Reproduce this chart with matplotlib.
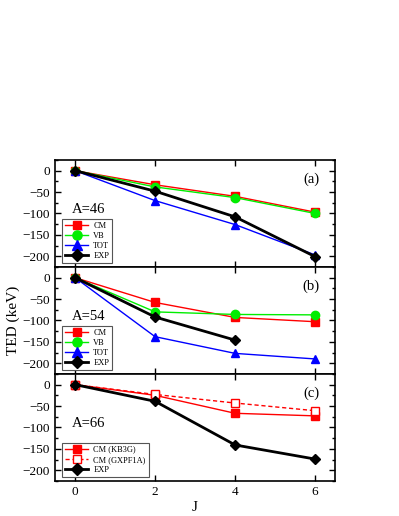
import matplotlib
matplotlib.use("Agg")
import matplotlib.pyplot as plt
from matplotlib.ticker import MultipleLocator

plt.rcParams['font.family'] = ['Liberation Serif', 'DejaVu Serif']

# data
J = [0, 2, 4, 6]
a46_cm = [0, -33, -60, -97]
a46_vb = [0, -38, -63, -100]
a46_tot = [0, -70, -126, -197]
a46_exp = [0, -48, -108, -201]

a54_cm = [0, -58, -93, -103]
a54_vb = [0, -80, -86, -87]
a54_tot = [0, -138, -177, -190]
J54_exp = [0, 2, 4]
a54_exp = [0, -92, -146]

a66_kb3g = [0, -25, -67, -73]
a66_gxpf1a = [0, -23, -43, -61]
a66_exp = [0, -39, -141, -174]

panelLabels = ['(a)', '(b)', '(c)']
massLabels = ['A=46', 'A=54', 'A=66']

fig = plt.figure(figsize=(3.99, 5.16), dpi=100)
left, right = 0.138, 0.840
top, bottom = 0.690, 0.068
h = (top - bottom) / 3
axes = []
for i in range(3):
    ax = fig.add_axes([left, top - (i + 1) * h, right - left, h])
    axes.append(ax)

def redBlackStyle(ax):
    ax.set_xlim(-0.5, 6.5)
    ax.set_ylim(-225, 25)
    ax.set_xticks(J)
    ax.yaxis.set_major_locator(MultipleLocator(50))
    ax.yaxis.set_minor_locator(MultipleLocator(25))
    ax.tick_params(which='both', direction='in', top=True, right=True, labelsize=9.5, width=1)
    ax.tick_params(which='major', length=4)
    ax.tick_params(which='minor', length=2.5)
    for s in ax.spines.values():
        s.set_linewidth(1.2)

# panel (a)
ax = axes[0]
ax.plot(J, a46_cm, '-s', color='red', lw=1, ms=5.5, label='CM')
ax.plot(J, a46_vb, '-o', color='#00ee00', lw=1, ms=6, label='VB')
ax.plot(J, a46_tot, '-^', color='blue', lw=1, ms=6, label='TOT')
ax.plot(J, a46_exp, '-D', color='black', lw=2, ms=5.5, label='EXP')

# panel (b)
ax = axes[1]
ax.plot(J, a54_cm, '-s', color='red', lw=1, ms=5.5, label='CM')
ax.plot(J, a54_vb, '-o', color='#00ee00', lw=1, ms=6, label='VB')
ax.plot(J, a54_tot, '-^', color='blue', lw=1, ms=6, label='TOT')
ax.plot(J54_exp, a54_exp, '-D', color='black', lw=2, ms=5.5, label='EXP')

# panel (c)
ax = axes[2]
ax.plot(J, a66_kb3g, '-s', color='red', lw=1, ms=5.5, label='CM (KB3G)')
ax.plot(J, a66_gxpf1a, '--s', color='red', lw=1, ms=5.5, mfc='white', dashes=(3, 2), label='CM (GXPF1A)')
ax.plot(J, a66_exp, '-D', color='black', lw=2, ms=5.5, label='EXP')

for i, ax in enumerate(axes):
    redBlackStyle(ax)
    ax.text(0.945, 0.82, panelLabels[i], transform=ax.transAxes, fontsize=10.5, ha='right', va='center')
    ax.text(0.06, 0.54, massLabels[i], transform=ax.transAxes, fontsize=10.5, ha='left', va='center')
    leg = ax.legend(loc='lower left', bbox_to_anchor=(0.01, 0.0), fontsize=6, fancybox=False,
                    edgecolor='#555555', handlelength=2.8, borderpad=0.35, labelspacing=0.25,
                    handletextpad=0.6, framealpha=1, markerscale=1.1)
    leg.get_frame().set_linewidth(0.8)
    if i < 2:
        ax.tick_params(labelbottom=False)

axes[1].set_ylabel('TED (keV)', fontsize=11, labelpad=2)
axes[2].set_xlabel('J', fontsize=11, labelpad=2)

fig.savefig('out.png', dpi=100)
